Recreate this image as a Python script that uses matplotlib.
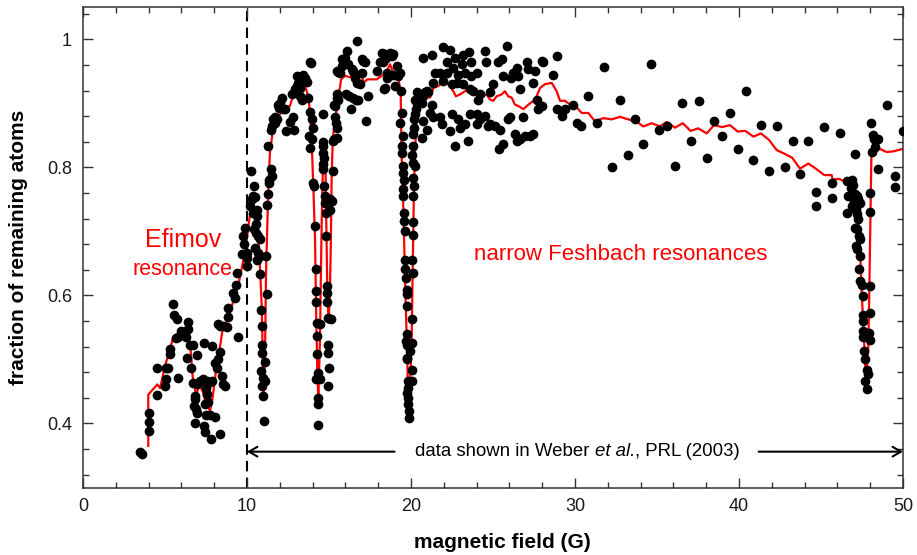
import numpy as np
import matplotlib.pyplot as plt
from matplotlib.ticker import MultipleLocator, FormatStrFormatter

plt.rcParams['font.family'] = ['Liberation Sans', 'DejaVu Sans']

# measured points: (magnetic field in G, fraction of remaining atoms)
efimov_pts = [
    (3.5, 0.355), (3.6, 0.352), (4.02, 0.416), (4.02, 0.402), (4.02, 0.388),
    (4.53, 0.487), (4.53, 0.445), (5.04, 0.487), (5.06, 0.469), (5.0, 0.458),
    (5.2, 0.486), (5.3, 0.508), (5.28, 0.516), (5.47, 0.587), (5.57, 0.570),
    (5.72, 0.5625), (5.67, 0.534), (5.81, 0.535), (6.0, 0.544), (6.2, 0.540),
    (6.3, 0.535), (6.4, 0.547), (6.4, 0.559), (5.81, 0.471), (6.36, 0.503),
    (6.52, 0.522), (6.73, 0.522), (6.58, 0.487), (6.69, 0.464), (6.8, 0.443),
    (6.83, 0.438), (6.77, 0.427), (6.89, 0.422), (6.93, 0.417), (6.85, 0.401),
    (6.97, 0.507), (6.93, 0.461), (7.13, 0.467), (7.33, 0.469), (7.54, 0.467),
    (7.74, 0.465), (7.85, 0.467), (7.4, 0.526), (7.5, 0.456), (7.54, 0.446),
    (7.6, 0.433), (7.45, 0.430), (7.5, 0.414), (7.74, 0.414), (8.05, 0.41),
    (7.38, 0.396), (7.44, 0.386), (7.78, 0.376), (8.35, 0.384), (7.89, 0.521),
    (8.05, 0.495), (8.15, 0.487), (8.25, 0.500), (8.35, 0.511), (8.45, 0.474),
    (8.56, 0.461), (8.66, 0.459), (8.35, 0.553), (8.56, 0.553), (8.76, 0.550),
    (8.25, 0.555), (8.86, 0.567), (8.86, 0.580), (9.47, 0.535), (9.37, 0.635),
    (9.33, 0.617), (9.17, 0.604), (9.27, 0.596), (9.67, 0.664), (9.82, 0.680),
    (9.78, 0.693), (9.88, 0.706), (10.02, 0.659), (10.02, 0.646), (9.98, 0.667),
]

dip_pts = [
    (10.22, 0.795), (10.43, 0.771), (10.28, 0.750), (10.39, 0.755), (10.49, 0.753),
    (10.18, 0.740), (10.59, 0.734), (10.39, 0.729), (10.63, 0.724), (10.55, 0.711),
    (10.43, 0.703), (10.55, 0.698), (10.69, 0.693), (10.79, 0.688), (10.49, 0.674),
    (10.69, 0.667), (10.79, 0.661), (10.59, 0.656), (10.79, 0.633), (10.83, 0.578),
    (10.89, 0.552), (10.89, 0.523), (10.94, 0.510), (10.83, 0.482), (10.98, 0.471),
    (10.94, 0.458), (10.98, 0.443), (11.03, 0.404), (11.1, 0.496), (11.1, 0.466),
    (11.2, 0.602), (11.16, 0.661), (11.2, 0.742), (11.26, 0.758), (11.36, 0.781),
    (11.36, 0.776), (11.44, 0.797), (11.30, 0.833), (11.5, 0.786), (11.57, 0.875),
    (11.5, 0.865), (11.71, 0.870), (11.81, 0.876), (11.44, 0.859), (11.71, 0.879),
    (11.97, 0.893), (12.01, 0.901), (12.11, 0.909), (11.91, 0.898), (12.22, 0.891),
    (12.38, 0.857), (12.32, 0.891), (12.62, 0.871), (12.83, 0.879), (12.87, 0.859),
    (12.72, 0.914), (12.93, 0.922), (13.03, 0.927), (13.13, 0.932), (13.23, 0.924),
    (13.33, 0.940), (13.54, 0.940), (13.64, 0.933), (13.44, 0.945), (13.03, 0.943),
    (13.23, 0.911), (13.33, 0.906), (13.74, 0.909), (13.84, 0.964), (13.88, 0.963),
    (13.84, 0.886), (13.96, 0.875), (14.0, 0.862), (13.80, 0.849), (13.96, 0.844),
    (13.84, 0.831), (14.05, 0.776), (14.09, 0.771), (14.15, 0.708), (14.21, 0.641),
    (14.21, 0.607), (14.21, 0.589), (14.25, 0.557), (14.25, 0.536), (14.25, 0.508),
    (14.21, 0.469), (14.35, 0.479), (14.35, 0.440), (14.35, 0.430), (14.35, 0.398),
    (14.45, 0.555), (14.45, 0.469), (14.61, 0.883), (14.65, 0.839), (14.61, 0.833),
    (14.65, 0.823), (14.69, 0.815), (14.65, 0.805), (14.65, 0.797), (14.71, 0.771),
    (14.76, 0.755), (14.76, 0.745), (14.82, 0.729), (14.82, 0.693), (14.86, 0.615),
    (14.90, 0.604), (14.90, 0.589), (14.96, 0.565), (14.96, 0.523), (14.96, 0.510),
    (14.98, 0.487), (14.96, 0.458), (15.06, 0.750), (15.16, 0.747), (15.06, 0.734),
    (15.12, 0.5625), (15.22, 0.794), (15.26, 0.841), (15.30, 0.844), (15.37, 0.878),
    (15.37, 0.896), (15.43, 0.870), (15.47, 0.862), (15.51, 0.846), (15.30, 0.898),
    (15.57, 0.949), (15.47, 0.951), (15.67, 0.948), (15.51, 0.909), (15.57, 0.906),
    (15.47, 0.914),
]

plateau_pts = [
    (15.77, 0.969), (16.08, 0.982), (15.98, 0.971), (16.18, 0.961), (15.77, 0.958),
    (16.38, 0.953), (16.52, 0.948), (16.58, 0.940), (16.44, 0.951), (16.04, 0.914),
    (16.24, 0.911), (16.44, 0.909), (16.65, 0.906), (16.79, 0.906), (16.32, 0.891),
    (16.69, 0.932), (16.89, 0.930), (16.99, 0.948), (17.09, 0.966), (17.2, 0.964),
    (17.03, 0.969), (17.40, 0.911), (17.26, 0.872), (16.69, 0.997), (17.91, 0.951),
    (18.11, 0.964), (18.31, 0.964), (18.41, 0.977), (18.21, 0.979), (18.48, 0.971),
    (18.72, 0.979), (18.82, 0.974), (18.88, 0.977), (18.52, 0.948), (18.52, 0.939),
    (18.41, 0.924), (18.35, 0.922), (18.92, 0.945), (19.02, 0.927), (19.12, 0.958),
    (19.23, 0.943), (19.33, 0.948), (19.37, 0.919),
]

deep_dip_pts = [
    (19.33, 0.870), (19.43, 0.885), (19.49, 0.849), (19.43, 0.833), (19.43, 0.823),
    (19.49, 0.802), (19.53, 0.792), (19.57, 0.781), (19.49, 0.766), (19.53, 0.755),
    (19.57, 0.729), (19.57, 0.716), (19.63, 0.701), (19.63, 0.656), (19.63, 0.641),
    (19.69, 0.628), (19.74, 0.609), (19.74, 0.602), (19.74, 0.583), (19.74, 0.539),
    (19.69, 0.529), (19.78, 0.523), (19.78, 0.503), (19.74, 0.500), (19.84, 0.466),
    (19.84, 0.456), (19.78, 0.448), (19.84, 0.440), (19.84, 0.430), (19.90, 0.419),
    (19.90, 0.409), (20.04, 0.466), (20.04, 0.484), (20.04, 0.526), (19.94, 0.513),
    (20.04, 0.5625), (20.10, 0.635), (20.04, 0.656), (20.10, 0.695), (20.10, 0.714),
    (20.14, 0.755), (20.18, 0.771), (20.14, 0.784), (20.24, 0.802), (20.14, 0.807),
    (20.04, 0.820), (20.10, 0.833), (20.14, 0.852), (20.20, 0.862), (20.18, 0.875),
    (20.30, 0.891), (20.35, 0.901), (20.24, 0.883), (20.24, 0.905), (20.35, 0.917),
    (20.65, 0.846), (20.75, 0.872), (20.65, 0.901), (20.75, 0.911), (20.86, 0.917),
    (20.96, 0.919), (21.06, 0.918), (20.75, 0.971), (20.95, 0.859),
]

high_pts = [
    (21.26, 0.975), (21.97, 0.988), (22.39, 0.983), (22.68, 0.971), (23.19, 0.975),
    (23.56, 0.980), (23.64, 0.964), (23.09, 0.961), (22.58, 0.956), (22.17, 0.964),
    (21.77, 0.948), (21.46, 0.948), (21.36, 0.932), (21.93, 0.935), (22.17, 0.948),
    (22.89, 0.945), (23.29, 0.948), (23.64, 0.943), (24.0, 0.948), (22.78, 0.932),
    (23.19, 0.930), (23.60, 0.922), (23.80, 0.919), (24.2, 0.914), (24.51, 0.982),
    (24.57, 0.964), (25.32, 0.964), (25.52, 0.969), (25.83, 0.990), (25.63, 0.943),
    (26.08, 0.940), (26.24, 0.948), (26.44, 0.956), (26.54, 0.943), (27.05, 0.964),
    (27.16, 0.953), (27.56, 0.951), (28.07, 0.964), (27.97, 0.966), (28.88, 0.974),
    (28.68, 0.945), (27.46, 0.932), (26.65, 0.922), (25.02, 0.930), (24.82, 0.917),
    (24.11, 0.906), (22.48, 0.930),
    (21.26, 0.898), (21.16, 0.885), (21.36, 0.878), (21.77, 0.878), (21.87, 0.867),
    (22.48, 0.883), (22.38, 0.857), (22.89, 0.875), (22.99, 0.862), (23.29, 0.867),
    (23.50, 0.841), (22.68, 0.833), (23.60, 0.883), (24.0, 0.883), (24.51, 0.880),
    (24.2, 0.875), (24.0, 0.867), (24.72, 0.865), (25.12, 0.865), (24.82, 0.867),
    (25.43, 0.859), (25.93, 0.875), (26.04, 0.878), (26.34, 0.852), (26.44, 0.841),
    (26.65, 0.844), (26.95, 0.849), (27.26, 0.849), (27.46, 0.852), (26.85, 0.878),
    (27.66, 0.906), (27.97, 0.896), (27.76, 0.891), (28.88, 0.891), (29.19, 0.880),
    (29.39, 0.891), (29.9, 0.898), (30.1, 0.870), (25.63, 0.836), (25.39, 0.829),
]

tail_pts = [
    (30.35, 0.865), (30.81, 0.912), (31.32, 0.870), (31.77, 0.957), (32.23, 0.800),
    (32.74, 0.906), (33.21, 0.819), (33.68, 0.875), (34.17, 0.837), (34.61, 0.961),
    (35.10, 0.859), (35.59, 0.864), (36.08, 0.802), (36.52, 0.901), (37.07, 0.841),
    (37.56, 0.903), (38.03, 0.814), (38.50, 0.873), (38.99, 0.849), (39.47, 0.885),
    (39.94, 0.828), (40.41, 0.920), (40.87, 0.811), (41.36, 0.866), (41.85, 0.795),
    (42.32, 0.865), (42.78, 0.801), (43.27, 0.841), (43.74, 0.790), (44.23, 0.841),
    (44.70, 0.761), (44.70, 0.740), (45.16, 0.863), (45.65, 0.775), (45.65, 0.752),
    (46.14, 0.853), (46.57, 0.729),
    (47.07, 0.821), (46.57, 0.779), (46.87, 0.780), (46.81, 0.768), (46.97, 0.773),
    (46.67, 0.755), (46.87, 0.753), (47.07, 0.758), (47.17, 0.755), (47.27, 0.751),
    (47.01, 0.745), (47.21, 0.742), (46.87, 0.739), (47.13, 0.734), (47.38, 0.745),
    (47.17, 0.727), (47.27, 0.719), (47.07, 0.706), (47.17, 0.703), (47.34, 0.693),
    (47.38, 0.688), (47.13, 0.677), (47.21, 0.672), (47.38, 0.661), (47.34, 0.641),
    (47.38, 0.622), (47.48, 0.617), (47.54, 0.599), (47.54, 0.570), (47.58, 0.560),
    (47.58, 0.544), (47.78, 0.542), (47.54, 0.535), (47.62, 0.513), (47.68, 0.501),
    (47.82, 0.483), (47.88, 0.478), (47.68, 0.466), (47.78, 0.454),
    (47.98, 0.760), (47.98, 0.731), (47.94, 0.542), (47.98, 0.531), (47.98, 0.573),
    (47.98, 0.615), (48.49, 0.797), (49.51, 0.787), (49.51, 0.769), (48.03, 0.869),
    (48.15, 0.850), (48.23, 0.845), (48.35, 0.843), (48.50, 0.845), (48.29, 0.832),
    (48.09, 0.824), (49.05, 0.897), (49.98, 0.857),
]

# red curve
fit_field = [3.98, 3.98, 4.53, 4.7, 5.0, 5.3, 5.5, 5.9, 6.3, 6.55, 6.7, 6.9, 7.1, 7.3,
             7.5, 7.75, 7.9, 8.1, 8.3, 8.5, 8.7, 8.96, 9.27, 9.5, 9.78, 9.98, 10.22,
             10.43, 10.59, 10.75, 10.9, 10.96, 11.0, 11.1, 11.16, 11.3, 11.4, 11.56,
             11.81, 12.21, 12.62, 12.93, 13.13, 13.33, 13.54, 13.74, 13.84, 13.94,
             14.05, 14.15, 14.21, 14.29, 14.35, 14.45, 14.55, 14.66, 14.76, 14.82,
             14.9, 14.98, 15.06, 15.12, 15.16, 15.23, 15.37, 15.51, 15.63, 15.74,
             15.98, 16.38, 16.65, 16.79, 17.0, 17.1, 17.34, 17.91, 18.22, 18.52,
             18.72, 18.92, 19.23, 19.37, 19.43, 19.53, 19.63, 19.74, 19.84, 19.94,
             20.04, 20.1, 20.18, 20.26, 20.35, 20.55, 20.86, 21.16, 21.36, 21.67,
             21.87, 22.07, 22.17, 22.38, 22.58, 22.74, 22.99, 23.29, 23.5, 23.7,
             23.9, 24.1, 24.41, 24.61, 24.82, 25.02, 25.22, 25.53, 25.73, 25.93,
             26.14, 26.34, 26.54, 26.85, 27.16, 27.46, 27.66, 27.87, 28.17, 28.58,
             28.88, 29.09, 29.39, 29.7, 29.9, 30.2, 30.41, 30.81, 31.22, 31.73,
             32.24, 32.74, 33.25, 33.72, 34.17, 34.68, 35.18, 35.59, 36.1, 36.57,
             37.05, 37.52, 38.03, 38.48, 38.97, 39.45, 39.92, 40.39, 40.88, 41.34,
             41.83, 42.3, 42.8, 43.25, 43.72, 44.23, 44.69, 45.2, 45.65, 45.71,
             46.12, 46.57, 46.87, 47.07, 47.27, 47.38, 47.48, 47.58, 47.68, 47.74,
             47.88, 47.94, 48.02, 48.08, 48.41, 49.0, 49.41, 50.0]
fit_frac = [0.365, 0.445, 0.461, 0.455, 0.49, 0.515, 0.535, 0.54, 0.54, 0.52, 0.47, 0.445,
            0.46, 0.45, 0.43, 0.42, 0.44, 0.48, 0.51, 0.545, 0.555, 0.573, 0.60, 0.62,
            0.655, 0.6875, 0.734, 0.734, 0.719, 0.667, 0.583, 0.505, 0.4375, 0.505,
            0.635, 0.766, 0.823, 0.854, 0.875, 0.891, 0.896, 0.922, 0.932, 0.935,
            0.927, 0.911, 0.885, 0.844, 0.766, 0.6875, 0.583, 0.479, 0.4375, 0.531,
            0.708, 0.839, 0.844, 0.740, 0.604, 0.557, 0.609, 0.693, 0.781, 0.844,
            0.875, 0.896, 0.919, 0.9375, 0.943, 0.940, 0.932, 0.940, 0.943, 0.932,
            0.9375, 0.9375, 0.943, 0.95, 0.961, 0.948, 0.940, 0.917, 0.818, 0.740,
            0.635, 0.531, 0.4375, 0.453, 0.531, 0.635, 0.766, 0.833, 0.875, 0.901,
            0.911, 0.909, 0.924, 0.927, 0.932, 0.930, 0.932, 0.927, 0.919, 0.911,
            0.914, 0.919, 0.924, 0.917, 0.917, 0.914, 0.911, 0.914, 0.906, 0.904,
            0.911, 0.914, 0.919, 0.911, 0.909, 0.898, 0.896, 0.891, 0.898, 0.904,
            0.911, 0.924, 0.930, 0.932, 0.919, 0.904, 0.904, 0.898, 0.901, 0.891,
            0.885, 0.885, 0.872, 0.877, 0.875, 0.879, 0.875, 0.872, 0.864, 0.869,
            0.864, 0.871, 0.862, 0.869, 0.857, 0.861, 0.853, 0.866, 0.863, 0.866,
            0.856, 0.857, 0.848, 0.853, 0.843, 0.827, 0.821, 0.815, 0.798, 0.806,
            0.798, 0.788, 0.788, 0.781, 0.782, 0.776, 0.771, 0.755, 0.724, 0.672,
            0.609, 0.552, 0.505, 0.464, 0.516, 0.594, 0.724, 0.828, 0.831, 0.824,
            0.825, 0.829]

pts = np.array(efimov_pts + dip_pts + plateau_pts + deep_dip_pts + high_pts + tail_pts)

fig = plt.figure(figsize=(9.17, 5.55), dpi=100)
ax = fig.add_axes([0.0905, 0.1216, 0.8942, 0.8652])

ax.axvline(10, color='black', ls=(0, (5, 3)), lw=1.5, zorder=1)
ax.plot(fit_field, fit_frac, color='red', lw=1.6, zorder=2)
ax.plot(pts[:, 0], pts[:, 1], 'o', color='black', ms=7, mec='none', zorder=3)

# double arrow interrupted by the caption
arrow_y = 0.356
head = dict(lw=1.5, color='black', shrinkA=0, shrinkB=0)
ax.annotate('', xy=(10, arrow_y), xytext=(19.0, arrow_y), annotation_clip=False,
            arrowprops=dict(arrowstyle='->,head_length=0.6,head_width=0.35', **head))
ax.annotate('', xy=(50, arrow_y), xytext=(41.2, arrow_y), annotation_clip=False,
            arrowprops=dict(arrowstyle='->,head_length=0.6,head_width=0.35', **head))
t1 = ax.text(20.25, arrow_y, 'data shown in Weber ', ha='left', va='center',
             fontsize=13.4)
t2 = ax.annotate('et al.', xy=(1, 0), xycoords=t1, ha='left', va='bottom',
                 fontsize=13.4, style='italic')
ax.annotate(', PRL (2003)', xy=(1, 0), xycoords=t2, ha='left', va='bottom',
            fontsize=13.4)

ax.text(6.1, 0.686, 'Efimov', color='red', fontsize=18, ha='center', va='center')
ax.text(6.05, 0.641, 'resonance', color='red', fontsize=15.5, ha='center', va='center')
ax.text(32.8, 0.664, 'narrow Feshbach resonances', color='red', fontsize=16,
        ha='center', va='center')

ax.set_xlim(0, 50)
ax.set_ylim(0.3, 1.05)
ax.xaxis.set_major_locator(MultipleLocator(10))
ax.xaxis.set_minor_locator(MultipleLocator(2))
ax.yaxis.set_major_locator(MultipleLocator(0.2))
ax.yaxis.set_minor_locator(MultipleLocator(0.04))
ax.yaxis.set_major_formatter(FormatStrFormatter('%g'))
ax.tick_params(which='both', direction='in', top=True, right=True, width=1,
               color='0.2', labelcolor='0.1', labelsize=13)
ax.tick_params(which='major', length=7)
ax.tick_params(which='minor', length=4)
ax.tick_params(axis='x', pad=7.5)
ax.tick_params(axis='y', pad=8)
for s in ax.spines.values():
    s.set_color('0.2')
    s.set_linewidth(1.1)

ax.set_xlabel('magnetic field (G)', fontsize=15, fontweight='bold')
ax.set_ylabel('fraction of remaining atoms', fontsize=15, fontweight='bold')
ax.xaxis.set_label_coords(0.512, -0.094)
ax.yaxis.set_label_coords(-0.067, 0.5)

fig.savefig('out.png', dpi=100)
